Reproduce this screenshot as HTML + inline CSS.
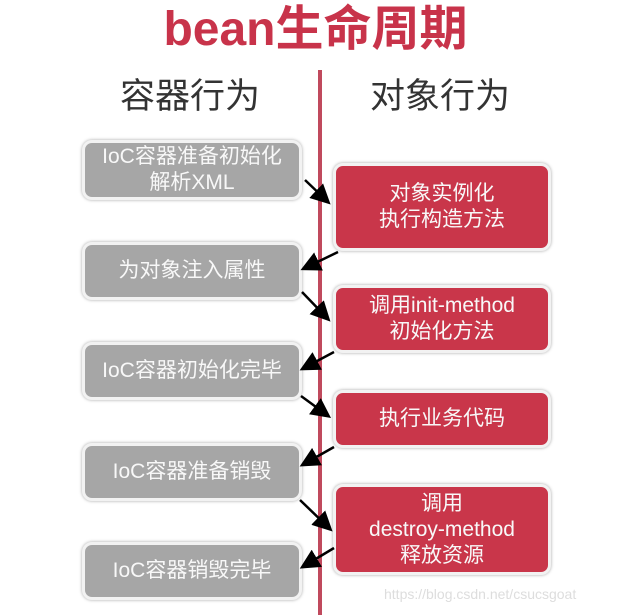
<!DOCTYPE html>
<html><head><meta charset="utf-8"><style>
body{margin:0;width:631px;height:615px;background:#fff;position:relative;overflow:hidden;font-family:"Liberation Sans","Noto Sans CJK SC",sans-serif}
.t{position:absolute;left:0;width:631px;top:2px;text-align:center;font-size:48px;font-weight:bold;color:#c8334a;line-height:56px}
.h{position:absolute;top:74px;font-size:35px;color:#333;line-height:46px}
.b{position:absolute;border:3px solid #f2f2f2;border-radius:10px;box-shadow:0 0 3px rgba(0,0,0,.35);color:#f8f8f8;font-size:21px;line-height:26px;display:flex;align-items:center;justify-content:center;text-align:center;box-sizing:border-box}
.g{background:#a6a6a6;left:82px;width:220px}
.r{background:#c9364a;left:333px;width:218px}
.line{position:absolute;left:318px;top:70px;width:4px;height:545px;background:#c04a5d}
.wm{position:absolute;left:384px;top:586px;font-size:14px;color:#ddd}
</style></head><body>
<div class="t">bean生命周期</div>
<div class="h" style="left:120px">容器行为</div>
<div class="h" style="left:370px">对象行为</div>
<div class="line"></div>
<div class="b g" style="top:140px;height:60px">IoC容器准备初始化<br>解析XML</div>
<div class="b g" style="top:242px;height:58px">为对象注入属性</div>
<div class="b g" style="top:342px;height:58px">IoC容器初始化完毕</div>
<div class="b g" style="top:443px;height:58px">IoC容器准备销毁</div>
<div class="b g" style="top:542px;height:58px">IoC容器销毁完毕</div>
<div class="b r" style="top:163px;height:88px">对象实例化<br>执行构造方法</div>
<div class="b r" style="top:285px;height:68px">调用init-method<br>初始化方法</div>
<div class="b r" style="top:390px;height:58px">执行业务代码</div>
<div class="b r" style="top:484px;height:91px">调用<br>destroy-method<br>释放资源</div>
<svg style="position:absolute;left:0;top:0" width="631" height="615">
<defs><marker id="a" markerWidth="8" markerHeight="8" refX="6" refY="4" orient="auto" markerUnits="strokeWidth"><path d="M0,0L8,4L0,8z" fill="#000"/></marker></defs>
<g stroke="#000" stroke-width="2.5" marker-end="url(#a)">
<line x1="305" y1="180" x2="327" y2="201"/>
<line x1="338" y1="252" x2="305" y2="268"/>
<line x1="302" y1="292" x2="327" y2="318"/>
<line x1="334" y1="352" x2="304" y2="368"/>
<line x1="301" y1="396" x2="327" y2="415"/>
<line x1="334" y1="447" x2="304" y2="464"/>
<line x1="300" y1="500" x2="329" y2="528"/>
<line x1="334" y1="548" x2="304" y2="566"/>
</g></svg>
<div class="wm">https://blog.csdn.net/csucsgoat</div>
</body></html>
